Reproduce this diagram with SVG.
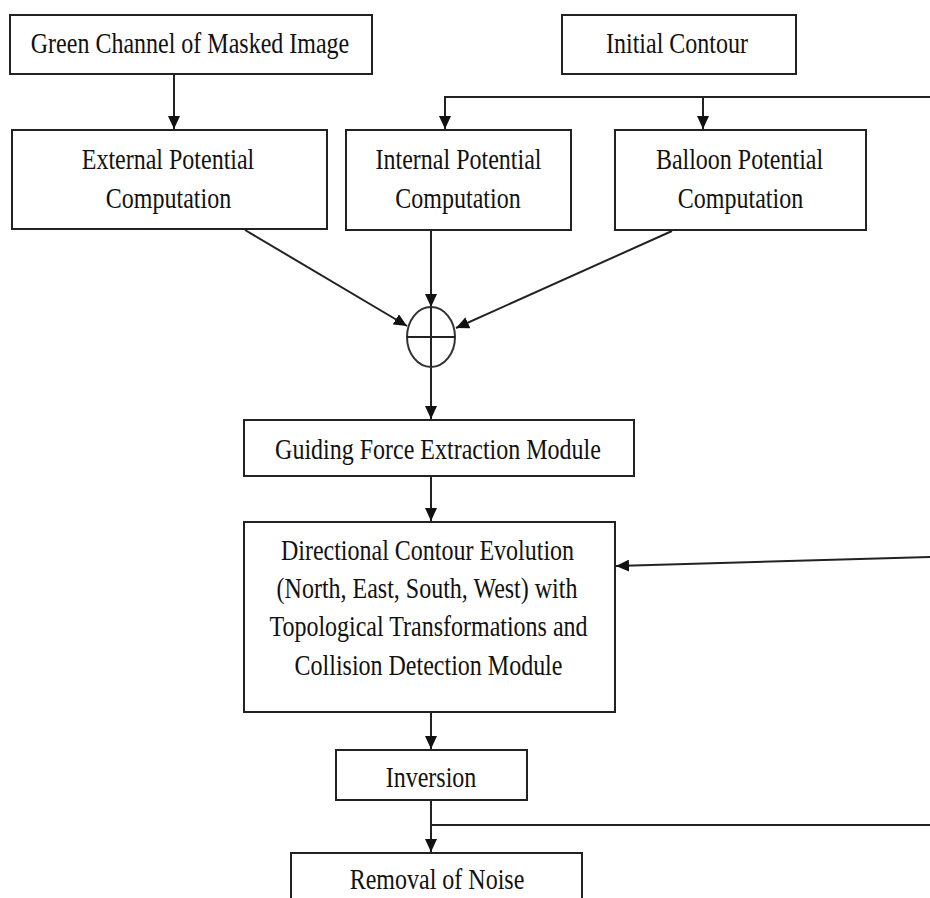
<svg xmlns="http://www.w3.org/2000/svg" width="930" height="898" viewBox="0 0 930 898">
<style>
.box{fill:#fff;stroke:#222;stroke-width:2}
.ln{fill:none;stroke:#222;stroke-width:2}
text{font-family:"Liberation Serif","Times New Roman",serif;fill:#111;text-anchor:middle;font-size:24px}
</style>
<defs>
<marker id="ah" markerUnits="userSpaceOnUse" markerWidth="14" markerHeight="12" refX="13" refY="6" orient="auto">
<path d="M0,0 L13,6 L0,12 Z" fill="#111"/>
</marker>
</defs>
<rect width="930" height="898" fill="#fff"/>
<g id="connectors">
<line class="ln" x1="174" y1="74" x2="174" y2="129" marker-end="url(#ah)"/>
<polyline class="ln" points="930,97 445,97 445,129" marker-end="url(#ah)"/>
<line class="ln" x1="703" y1="97" x2="703" y2="129" marker-end="url(#ah)"/>
<line class="ln" x1="245" y1="230" x2="407" y2="326" marker-end="url(#ah)"/>
<line class="ln" x1="431" y1="230" x2="431" y2="307" marker-end="url(#ah)"/>
<line class="ln" x1="672" y1="231" x2="456" y2="328" marker-end="url(#ah)"/>
<line class="ln" x1="431" y1="367" x2="431" y2="419" marker-end="url(#ah)"/>
<line class="ln" x1="431" y1="476" x2="431" y2="521" marker-end="url(#ah)"/>
<line class="ln" x1="930" y1="557" x2="616" y2="566" marker-end="url(#ah)"/>
<line class="ln" x1="431" y1="712" x2="431" y2="749" marker-end="url(#ah)"/>
<line class="ln" x1="431" y1="800" x2="431" y2="852" marker-end="url(#ah)"/>
<line class="ln" x1="431" y1="825" x2="930" y2="825"/>
</g>
<g id="green">
<rect class="box" x="10" y="15" width="362" height="59"/>
<text transform="matrix(1,0,0,1.25,190,53)">Green Channel of Masked Image</text>
</g>
<g id="initial">
<rect class="box" x="562" y="15" width="234" height="59"/>
<text transform="matrix(1,0,0,1.25,677,53)">Initial Contour</text>
</g>
<g id="external">
<rect class="box" x="12" y="130" width="315" height="99"/>
<text transform="matrix(1,0,0,1.25,168,169)">External Potential</text>
<text transform="matrix(1,0,0,1.25,168.5,208)">Computation</text>
</g>
<g id="internal">
<rect class="box" x="346" y="130" width="225" height="100"/>
<text transform="matrix(1,0,0,1.25,458.5,169)">Internal Potential</text>
<text transform="matrix(1,0,0,1.25,458,208)">Computation</text>
</g>
<g id="balloon">
<rect class="box" x="615" y="130" width="251" height="100"/>
<text transform="matrix(1,0,0,1.25,739.5,169)">Balloon Potential</text>
<text transform="matrix(1,0,0,1.25,740.5,208)">Computation</text>
</g>
<g id="sum">
<ellipse cx="431" cy="337" rx="24" ry="30" fill="#fff" stroke="#333" stroke-width="2"/>
<line class="ln" x1="407" y1="337" x2="455" y2="337" stroke="#333"/>
<line class="ln" x1="431" y1="307" x2="431" y2="367" stroke="#333"/>
</g>
<g id="guiding">
<rect class="box" x="244" y="420" width="390" height="56"/>
<text transform="matrix(1,0,0,1.25,438,459)">Guiding Force Extraction Module</text>
</g>
<g id="directional">
<rect class="box" x="244" y="522" width="371" height="190"/>
<text transform="matrix(1,0,0,1.25,427.5,560)">Directional Contour Evolution</text>
<text transform="matrix(1,0,0,1.25,427,598)">(North, East, South, West) with</text>
<text transform="matrix(1,0,0,1.25,428.5,636)">Topological Transformations and</text>
<text transform="matrix(1,0,0,1.25,428.5,675)">Collision Detection Module</text>
</g>
<g id="inversion">
<rect class="box" x="336" y="750" width="191" height="50"/>
<text transform="matrix(1,0,0,1.25,431,787)">Inversion</text>
</g>
<g id="removal">
<rect class="box" x="291" y="853" width="291" height="70"/>
<text transform="matrix(1,0,0,1.25,437,889)">Removal of Noise</text>
</g>
</svg>
